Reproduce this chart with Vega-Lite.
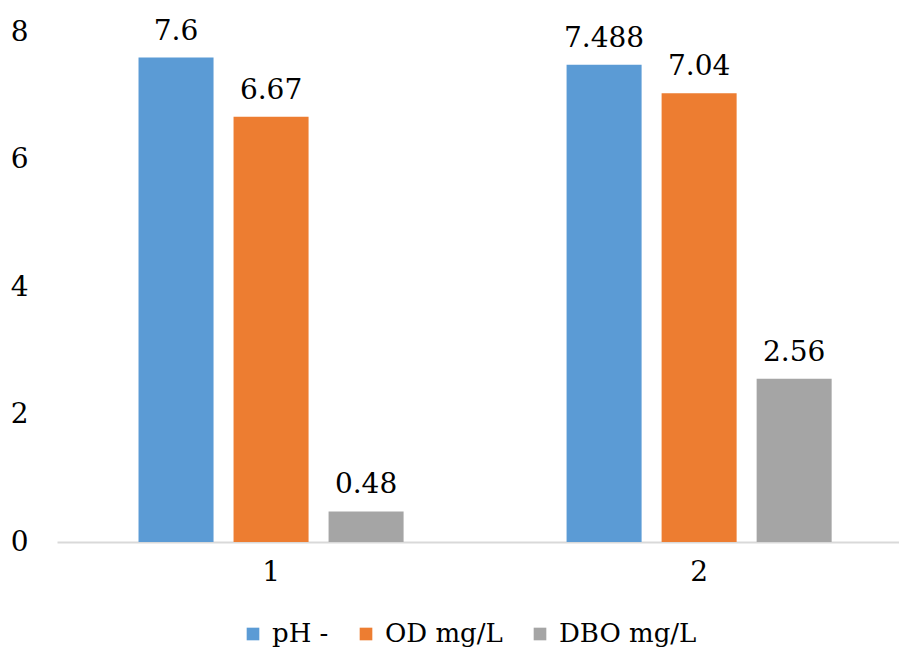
{
  "$schema": "https://vega.github.io/schema/vega-lite/v6.json",
  "width": 842,
  "height": 510,
  "autosize": {"type": "none"},
  "padding": {"left": 57, "top": 32, "right": 0, "bottom": 113},
  "background": "white",
  "config": {
    "font": "DejaVu Serif",
    "view": {"stroke": null},
    "axis": {"grid": false, "labelFont": "DejaVu Serif", "labelFontSize": 28, "labelColor": "#000000", "title": null}
  },
  "data": {
    "values": [
      {"group": "1", "series": "pH -", "value": 7.6},
      {"group": "1", "series": "OD mg/L", "value": 6.67},
      {"group": "1", "series": "DBO mg/L", "value": 0.48},
      {"group": "2", "series": "pH -", "value": 7.488},
      {"group": "2", "series": "OD mg/L", "value": 7.04},
      {"group": "2", "series": "DBO mg/L", "value": 2.56}
    ]
  },
  "encoding": {
    "x": {
      "field": "group", "type": "nominal",
      "scale": {"paddingInner": 0.334, "paddingOuter": 0.1505, "align": 0.555},
      "axis": {"labelAngle": 0, "ticks": false, "domainColor": "#D9D9D9", "domainWidth": 2, "labelPadding": 16}
    },
    "xOffset": {
      "field": "series", "type": "nominal", "sort": ["pH -", "OD mg/L", "DBO mg/L"],
      "scale": {"paddingInner": 0.2105, "paddingOuter": 0.1053}
    },
    "y": {
      "field": "value", "type": "quantitative",
      "scale": {"domain": [0, 8], "nice": false},
      "axis": {"values": [0, 2, 4, 6, 8], "ticks": false, "domain": false, "labelPadding": 29}
    }
  },
  "layer": [
    {
      "mark": {"type": "bar"},
      "encoding": {
        "color": {
          "field": "series", "type": "nominal",
          "sort": ["pH -", "OD mg/L", "DBO mg/L"],
          "scale": {"domain": ["pH -", "OD mg/L", "DBO mg/L"], "range": ["#5B9BD5", "#ED7D31", "#A5A5A5"]},
          "legend": {
            "title": null, "orient": "none", "direction": "horizontal",
            "legendX": 183, "legendY": 589,
            "symbolType": "square", "symbolSize": 160, "symbolStrokeWidth": 0,
            "labelFont": "DejaVu Serif", "labelFontSize": 26, "labelLimit": 400,
            "labelColor": "#000000",
            "columnPadding": 24, "labelOffset": 6
          }
        }
      }
    },
    {
      "mark": {"type": "text", "baseline": "alphabetic", "dy": -18, "color": "#000000", "font": "DejaVu Serif", "fontSize": 28},
      "encoding": {
        "text": {"field": "value", "type": "nominal"}
      }
    }
  ]
}
